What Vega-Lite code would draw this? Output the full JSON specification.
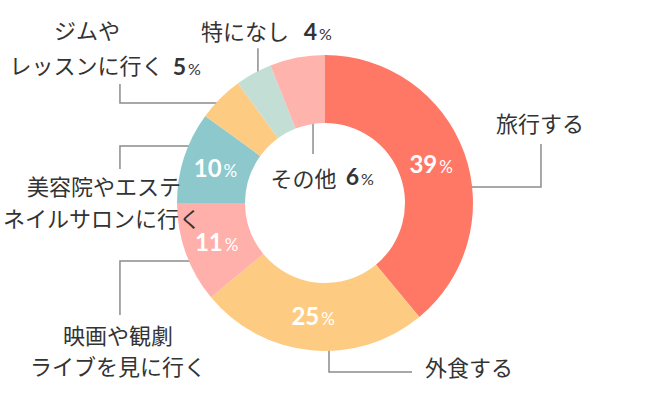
{
  "$schema": "https://vega.github.io/schema/vega-lite/v6.json",
  "width": 650,
  "height": 406,
  "padding": 0,
  "autosize": {"type": "fit", "contains": "padding"},
  "background": "white",
  "view": {"stroke": null},
  "data": {
    "values": [
      {"rank": 1, "category": "旅行する", "value": 39},
      {"rank": 2, "category": "外食する", "value": 25},
      {"rank": 3, "category": "映画や観劇ライブを見に行く", "value": 11},
      {"rank": 4, "category": "美容院やエステネイルサロンに行く", "value": 10},
      {"rank": 5, "category": "ジムやレッスンに行く", "value": 5},
      {"rank": 6, "category": "特になし", "value": 4},
      {"rank": 7, "category": "その他", "value": 6}
    ]
  },
  "layer": [
    {
      "data": {
        "values": [
          {"id": "A", "seq": 1, "u": 0.955, "v": 0.108},
          {"id": "A", "seq": 2, "u": 1.462, "v": 0.108},
          {"id": "A", "seq": 3, "u": 1.462, "v": 0.399},
          {"id": "B", "seq": 1, "u": 0.027, "v": -0.928},
          {"id": "B", "seq": 2, "u": 0.027, "v": -1.144},
          {"id": "B", "seq": 3, "u": 0.589, "v": -1.144},
          {"id": "C", "seq": 1, "u": -0.88, "v": -0.393},
          {"id": "C", "seq": 2, "u": -1.388, "v": -0.393},
          {"id": "C", "seq": 3, "u": -1.388, "v": -0.758},
          {"id": "D", "seq": 1, "u": -0.88, "v": 0.386},
          {"id": "D", "seq": 2, "u": -1.388, "v": 0.386},
          {"id": "D", "seq": 3, "u": -1.388, "v": 0.23},
          {"id": "E", "seq": 1, "u": -0.697, "v": 0.677},
          {"id": "E", "seq": 2, "u": -1.388, "v": 0.677},
          {"id": "E", "seq": 3, "u": -1.388, "v": 0.806},
          {"id": "F", "seq": 1, "u": -0.454, "v": 0.846},
          {"id": "F", "seq": 2, "u": -0.454, "v": 1.049},
          {"id": "G", "seq": 1, "u": -0.081, "v": 0.575},
          {"id": "G", "seq": 2, "u": -0.081, "v": 0.332}
        ]
      },
      "mark": {"type": "line", "color": "#8c8c8c", "strokeWidth": 1.5},
      "encoding": {
        "x": {"field": "u", "type": "quantitative", "scale": {"domain": [-2.2, 2.2], "nice": false, "zero": false}, "axis": null},
        "y": {"field": "v", "type": "quantitative", "scale": {"domain": [-1.375, 1.375], "nice": false, "zero": false}, "axis": null},
        "detail": {"field": "id"},
        "order": {"field": "seq"}
      }
    },
    {
      "mark": {"type": "arc", "outerRadius": 148, "innerRadius": 80},
      "encoding": {
        "theta": {"field": "value", "type": "quantitative", "stack": true},
        "order": {"field": "rank"},
        "color": {
          "field": "category",
          "type": "nominal",
          "legend": null,
          "scale": {
            "domain": ["旅行する", "外食する", "映画や観劇ライブを見に行く", "美容院やエステネイルサロンに行く", "ジムやレッスンに行く", "特になし", "その他"],
            "range": ["#FF7866", "#FECB82", "#FFB0AA", "#8DC8CD", "#FECB82", "#C3DED4", "#FFB3AD"]
          }
        }
      }
    },
    {
      "mark": {"type": "text", "radius": 114, "font": "Lato", "fontWeight": "bold", "fontSize": 24, "color": "white", "align": "right", "baseline": "alphabetic", "dx": 5, "dy": 9},
      "encoding": {
        "theta": {"field": "value", "type": "quantitative", "stack": true},
        "order": {"field": "rank"},
        "text": {"condition": {"test": "datum.value >= 10", "field": "value"}, "value": ""}
      }
    },
    {
      "mark": {"type": "text", "radius": 114, "font": "Lato", "fontSize": 17, "color": "white", "align": "left", "baseline": "alphabetic", "dx": 7, "dy": 9},
      "encoding": {
        "theta": {"field": "value", "type": "quantitative", "stack": true},
        "order": {"field": "rank"},
        "text": {"condition": {"test": "datum.value >= 10", "value": "%"}, "value": ""}
      }
    },
    {
      "data": {
        "values": [
          {"label": "旅行する", "u": 1.456, "v": 0.528},
          {"label": "外食する", "u": 0.975, "v": -1.124},
          {"label": "映画や観劇", "u": -1.401, "v": -0.907},
          {"label": "ライブを見に行く", "u": -1.401, "v": -1.117},
          {"label": "美容院やエステ", "u": -1.496, "v": 0.102},
          {"label": "ネイルサロンに行く", "u": -1.51, "v": -0.115},
          {"label": "ジムや", "u": -1.611, "v": 1.158},
          {"label": "レッスンに行く", "u": -1.615, "v": 0.921},
          {"label": "特になし", "u": -0.542, "v": 1.151},
          {"label": "その他", "u": -0.146, "v": 0.156}
        ]
      },
      "mark": {"type": "text", "font": "Noto Sans CJK JP", "fontSize": 22, "color": "#333333", "align": "center", "baseline": "middle"},
      "encoding": {
        "x": {"field": "u", "type": "quantitative", "scale": {"domain": [-2.2, 2.2], "nice": false, "zero": false}, "axis": null},
        "y": {"field": "v", "type": "quantitative", "scale": {"domain": [-1.375, 1.375], "nice": false, "zero": false}, "axis": null},
        "text": {"field": "label"}
      }
    },
    {
      "data": {
        "values": [
          {"num": "5", "u": -0.941, "v": 0.867},
          {"num": "4", "u": -0.054, "v": 1.104},
          {"num": "6", "u": 0.23, "v": 0.122}
        ]
      },
      "layer": [
        {
          "mark": {"type": "text", "font": "Lato", "fontWeight": "bold", "fontSize": 23, "color": "#333333", "align": "right", "baseline": "alphabetic"},
          "encoding": {
            "x": {"field": "u", "type": "quantitative", "scale": {"domain": [-2.2, 2.2], "nice": false, "zero": false}, "axis": null},
            "y": {"field": "v", "type": "quantitative", "scale": {"domain": [-1.375, 1.375], "nice": false, "zero": false}, "axis": null},
            "text": {"field": "num"}
          }
        },
        {
          "mark": {"type": "text", "font": "Lato", "fontSize": 16, "color": "#333333", "align": "left", "baseline": "alphabetic", "dx": 2},
          "encoding": {
            "x": {"field": "u", "type": "quantitative", "scale": {"domain": [-2.2, 2.2], "nice": false, "zero": false}, "axis": null},
            "y": {"field": "v", "type": "quantitative", "scale": {"domain": [-1.375, 1.375], "nice": false, "zero": false}, "axis": null},
            "text": {"value": "%"}
          }
        }
      ]
    }
  ]
}
